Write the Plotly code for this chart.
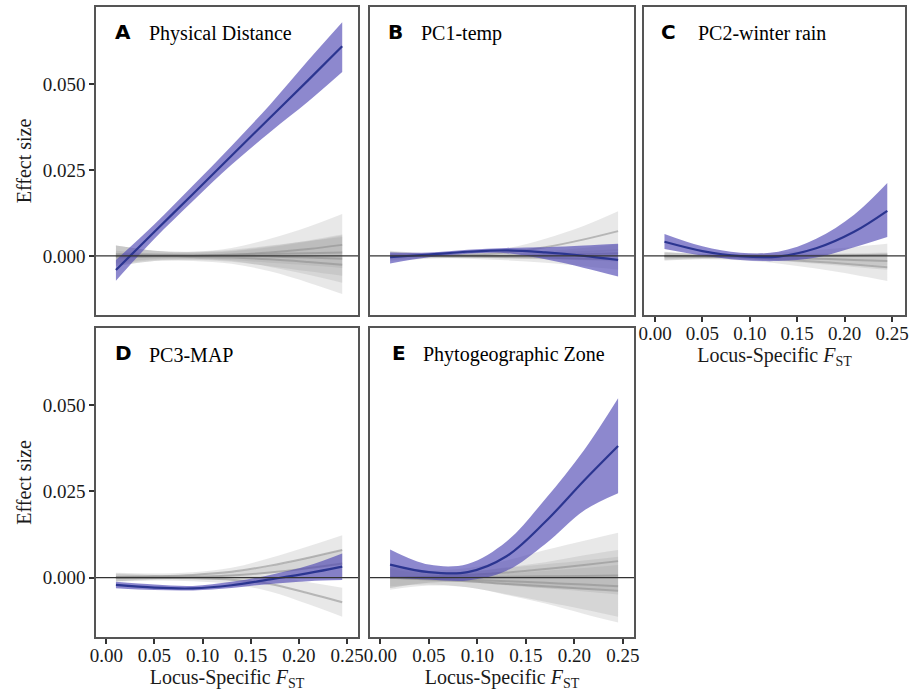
import plotly.graph_objects as go

# ---------------- data ----------------
FST = [0.01, 0.05, 0.09, 0.13, 0.17, 0.21, 0.245]
panel_letters = ["A", "B", "C", "D", "E"]
panel_titles = ["Physical Distance", "PC1-temp", "PC2-winter rain", "PC3-MAP", "Phytogeographic Zone"]
x_tick_vals = [0.00, 0.05, 0.10, 0.15, 0.20, 0.25]
x_tick_text = ["0.00", "0.05", "0.10", "0.15", "0.20", "0.25"]
y_tick_vals = [0.000, 0.025, 0.050]
y_tick_text = ["0.000", "0.025", "0.050"]

# observed effect (blue) : mean, lower, upper
A_mean = [-0.0041, 0.0070, 0.0180, 0.0291, 0.0402, 0.0512, 0.0610]
A_lo = [-0.0072, 0.0050, 0.0160, 0.0265, 0.0360, 0.0450, 0.0535]
A_hi = [-0.0012, 0.0092, 0.0205, 0.0320, 0.0440, 0.0570, 0.0680]

B_mean = [-0.0004, 0.0004, 0.0012, 0.0016, 0.0010, 0.0000, -0.0012]
B_lo = [-0.0022, -0.0004, 0.0006, 0.0008, -0.0010, -0.0035, -0.0060]
B_hi = [0.0010, 0.0010, 0.0018, 0.0023, 0.0025, 0.0030, 0.0035]

C_mean = [0.0041, 0.0014, -0.0001, -0.0002, 0.0022, 0.0070, 0.0131]
C_lo = [0.0020, 0.0001, -0.0012, -0.0015, -0.0005, 0.0025, 0.0055]
C_hi = [0.0064, 0.0028, 0.0009, 0.0012, 0.0050, 0.0120, 0.0212]

D_mean = [-0.0021, -0.0029, -0.0031, -0.0022, -0.0005, 0.0013, 0.0032]
D_lo = [-0.0031, -0.0036, -0.0037, -0.0030, -0.0018, -0.0010, -0.0007]
D_hi = [-0.0012, -0.0020, -0.0024, -0.0012, 0.0008, 0.0035, 0.0070]

E_mean = [0.0038, 0.0016, 0.0016, 0.0062, 0.0162, 0.0282, 0.0382]
E_lo = [0.0000, -0.0005, -0.0008, 0.0020, 0.0098, 0.0195, 0.0245]
E_hi = [0.0082, 0.0038, 0.0040, 0.0105, 0.0228, 0.0370, 0.0520]

# null (permuted) fits (grey) : mean and half-width of band
A_null_mean = [
    [0.0000, 0.0000, 0.0000, 0.0003, 0.0010, 0.0020, 0.0032],
    [0.0000, 0.0000, -0.0003, -0.0005, -0.0010, -0.0018, -0.0026],
    [0.0005, 0.0003, 0.0002, 0.0003, 0.0005, 0.0008, 0.0010],
    [-0.0005, -0.0002, 0.0000, 0.0000, -0.0002, -0.0005, -0.0008],
]
A_null_hw = [
    [0.0030, 0.0015, 0.0012, 0.0020, 0.0040, 0.0065, 0.0090],
    [0.0030, 0.0015, 0.0012, 0.0018, 0.0035, 0.0060, 0.0085],
    [0.0025, 0.0012, 0.0010, 0.0015, 0.0025, 0.0035, 0.0045],
    [0.0020, 0.0010, 0.0010, 0.0015, 0.0030, 0.0050, 0.0070],
]
B_null_mean = [
    [0.0000, 0.0000, 0.0003, 0.0010, 0.0025, 0.0048, 0.0072],
    [0.0000, 0.0000, -0.0002, -0.0003, -0.0005, -0.0008, -0.0010],
    [0.0002, 0.0001, 0.0000, 0.0000, 0.0002, 0.0005, 0.0008],
]
B_null_hw = [
    [0.0015, 0.0008, 0.0008, 0.0012, 0.0025, 0.0040, 0.0058],
    [0.0012, 0.0006, 0.0006, 0.0010, 0.0015, 0.0022, 0.0030],
    [0.0010, 0.0005, 0.0005, 0.0008, 0.0012, 0.0018, 0.0025],
]
C_null_mean = [
    [0.0000, -0.0002, -0.0005, -0.0010, -0.0017, -0.0025, -0.0033],
    [0.0000, 0.0000, 0.0000, 0.0000, 0.0001, 0.0002, 0.0003],
    [-0.0002, -0.0002, -0.0003, -0.0005, -0.0008, -0.0012, -0.0015],
]
C_null_hw = [
    [0.0012, 0.0008, 0.0008, 0.0012, 0.0020, 0.0030, 0.0040],
    [0.0010, 0.0006, 0.0006, 0.0010, 0.0016, 0.0024, 0.0032],
    [0.0012, 0.0007, 0.0007, 0.0010, 0.0015, 0.0020, 0.0025],
]
D_null_mean = [
    [0.0002, 0.0004, 0.0008, 0.0017, 0.0035, 0.0058, 0.0080],
    [0.0000, 0.0000, -0.0002, -0.0006, -0.0018, -0.0045, -0.0071],
    [0.0000, 0.0000, 0.0002, 0.0006, 0.0015, 0.0028, 0.0041],
]
D_null_hw = [
    [0.0012, 0.0008, 0.0008, 0.0012, 0.0022, 0.0033, 0.0043],
    [0.0012, 0.0008, 0.0008, 0.0012, 0.0022, 0.0032, 0.0042],
    [0.0010, 0.0006, 0.0006, 0.0010, 0.0018, 0.0030, 0.0040],
]
E_null_mean = [
    [0.0000, 0.0003, 0.0008, 0.0015, 0.0025, 0.0037, 0.0048],
    [0.0000, -0.0003, -0.0006, -0.0010, -0.0015, -0.0020, -0.0025],
    [0.0000, 0.0001, 0.0002, 0.0003, 0.0004, 0.0005, 0.0006],
    [0.0000, -0.0005, -0.0010, -0.0018, -0.0025, -0.0032, -0.0038],
]
E_null_hw = [
    [0.0030, 0.0018, 0.0020, 0.0035, 0.0055, 0.0070, 0.0082],
    [0.0035, 0.0020, 0.0022, 0.0040, 0.0060, 0.0085, 0.0105],
    [0.0030, 0.0015, 0.0015, 0.0025, 0.0035, 0.0045, 0.0055],
    [0.0025, 0.0015, 0.0018, 0.0030, 0.0045, 0.0060, 0.0075],
]

obs = [(A_mean, A_lo, A_hi), (B_mean, B_lo, B_hi), (C_mean, C_lo, C_hi),
       (D_mean, D_lo, D_hi), (E_mean, E_lo, E_hi)]
nulls = [(A_null_mean, A_null_hw), (B_null_mean, B_null_hw), (C_null_mean, C_null_hw),
         (D_null_mean, D_null_hw), (E_null_mean, E_null_hw)]

# ---------------- layout geometry ----------------
W, H = 909, 694


def xd(a, b):
    return [a / W, b / W]


def yd(top, bottom):
    return [1 - bottom / H, 1 - top / H]


col_dom = [xd(96, 358), xd(370, 634), xd(644, 905)]
row_dom = [yd(7, 315), yd(328, 637)]
panel_pos = [(0, 0), (0, 1), (0, 2), (1, 0), (1, 1)]
x_ranges = [[-0.0107, 0.2614], [-0.0107, 0.2614], [-0.0116, 0.2637],
            [-0.0107, 0.2614], [-0.0107, 0.2614]]
y_range = [-0.0172, 0.0724]
letter_x = [0.063, 0.062, 0.059, 0.063, 0.074]
title_x = [0.194, 0.186, 0.199, 0.196, 0.193]

SERIF = "Liberation Serif"
SANS = "DejaVu Sans"
BLUE_LINE = "#2b3590"
BLUE_FILL = "rgba(80,72,180,0.65)"
GREY_FILL = "rgba(150,150,150,0.22)"
GREY_LINE = "rgba(140,140,140,0.55)"

fig = go.Figure()
layout = dict(
    width=W, height=H,
    margin=dict(l=0, r=0, t=0, b=0, autoexpand=False),
    paper_bgcolor="white", plot_bgcolor="white",
    showlegend=False,
)
annotations = []
shapes = []

for i in range(5):
    r, c = panel_pos[i]
    xa = "x" if i == 0 else f"x{i+1}"
    ya = "y" if i == 0 else f"y{i+1}"
    xkey = "xaxis" if i == 0 else f"xaxis{i+1}"
    ykey = "yaxis" if i == 0 else f"yaxis{i+1}"

    # grey nulls
    nm, nh = nulls[i]
    for m, h in zip(nm, nh):
        lo = [a - b for a, b in zip(m, h)]
        hi = [a + b for a, b in zip(m, h)]
        fig.add_trace(go.Scatter(x=FST, y=lo, mode="lines", line=dict(width=0, shape="spline"),
                                 xaxis=xa, yaxis=ya, hoverinfo="skip"))
        fig.add_trace(go.Scatter(x=FST, y=hi, mode="lines", line=dict(width=0, shape="spline"),
                                 fill="tonexty", fillcolor=GREY_FILL, xaxis=xa, yaxis=ya, hoverinfo="skip"))
    for m in nm:
        fig.add_trace(go.Scatter(x=FST, y=m, mode="lines", line=dict(width=2, color=GREY_LINE, shape="spline"),
                                 xaxis=xa, yaxis=ya, hoverinfo="skip"))
    # observed (blue)
    mean, lo, hi = obs[i]
    fig.add_trace(go.Scatter(x=FST, y=lo, mode="lines", line=dict(width=0, shape="spline"),
                             xaxis=xa, yaxis=ya, hoverinfo="skip"))
    fig.add_trace(go.Scatter(x=FST, y=hi, mode="lines", line=dict(width=0, shape="spline"),
                             fill="tonexty", fillcolor=BLUE_FILL, xaxis=xa, yaxis=ya, hoverinfo="skip"))
    fig.add_trace(go.Scatter(x=FST, y=mean, mode="lines", line=dict(width=2.2, color=BLUE_LINE, shape="spline"),
                             xaxis=xa, yaxis=ya))

    show_x = (r == 1) or (c == 2)
    show_y = (c == 0)
    xaxis = dict(
        domain=col_dom[c], range=x_ranges[i], anchor=ya, automargin=False,
        showgrid=False, zeroline=False,
        showline=True, mirror=True, linecolor="#555555", linewidth=1.5,
        tickmode="array", tickvals=x_tick_vals, ticktext=x_tick_text,
        showticklabels=show_x, ticklabeloverflow="allow", ticklabelstandoff=-5,
        ticks="outside" if show_x else "", ticklen=5, tickwidth=1.5, tickcolor="#333333",
        tickfont=dict(family=SERIF, size=19, color="#1a1a1a"),
    )
    if show_x:
        xaxis["title"] = dict(text="Locus-Specific <i>F</i><sub>ST</sub>",
                              font=dict(family=SERIF, size=20, color="#1a1a1a"), standoff=0)
    yaxis = dict(
        domain=row_dom[r], range=y_range, anchor=xa, automargin=False,
        showgrid=False, zeroline=False,
        showline=True, mirror=True, linecolor="#555555", linewidth=1.5,
        tickmode="array", tickvals=y_tick_vals, ticktext=y_tick_text,
        showticklabels=show_y,
        ticks="outside" if show_y else "", ticklen=5, tickwidth=1.5, tickcolor="#333333",
        tickfont=dict(family=SERIF, size=19, color="#1a1a1a"),
    )
    if show_y:
        yaxis["title"] = dict(text="Effect size",
                              font=dict(family=SERIF, size=20, color="#1a1a1a"), standoff=6)
    layout[xkey] = xaxis
    layout[ykey] = yaxis

    shapes.append(dict(type="line", xref=f"{xa} domain", yref=ya, x0=0, x1=1, y0=0, y1=0,
                       line=dict(color="#333333", width=1.2), layer="above"))

    annotations.append(dict(text=f"<b>{panel_letters[i]}</b>", xref=f"{xa} domain", yref=f"{ya} domain",
                            x=letter_x[i], y=0.918, xanchor="left", yanchor="middle", showarrow=False,
                            font=dict(family=SANS, size=20, color="black")))
    annotations.append(dict(text=panel_titles[i], xref=f"{xa} domain", yref=f"{ya} domain",
                            x=title_x[i], y=0.914, xanchor="left", yanchor="middle", showarrow=False,
                            font=dict(family=SERIF, size=20, color="black")))

layout["annotations"] = annotations
layout["shapes"] = shapes
fig.update_layout(**layout)

# remove the default 8px page margin so the 909x694 figure fills the window
fig.write_html("out.html", config={"displayModeBar": False},
               post_script="document.body.style.margin='0';document.body.style.overflow='hidden';")
